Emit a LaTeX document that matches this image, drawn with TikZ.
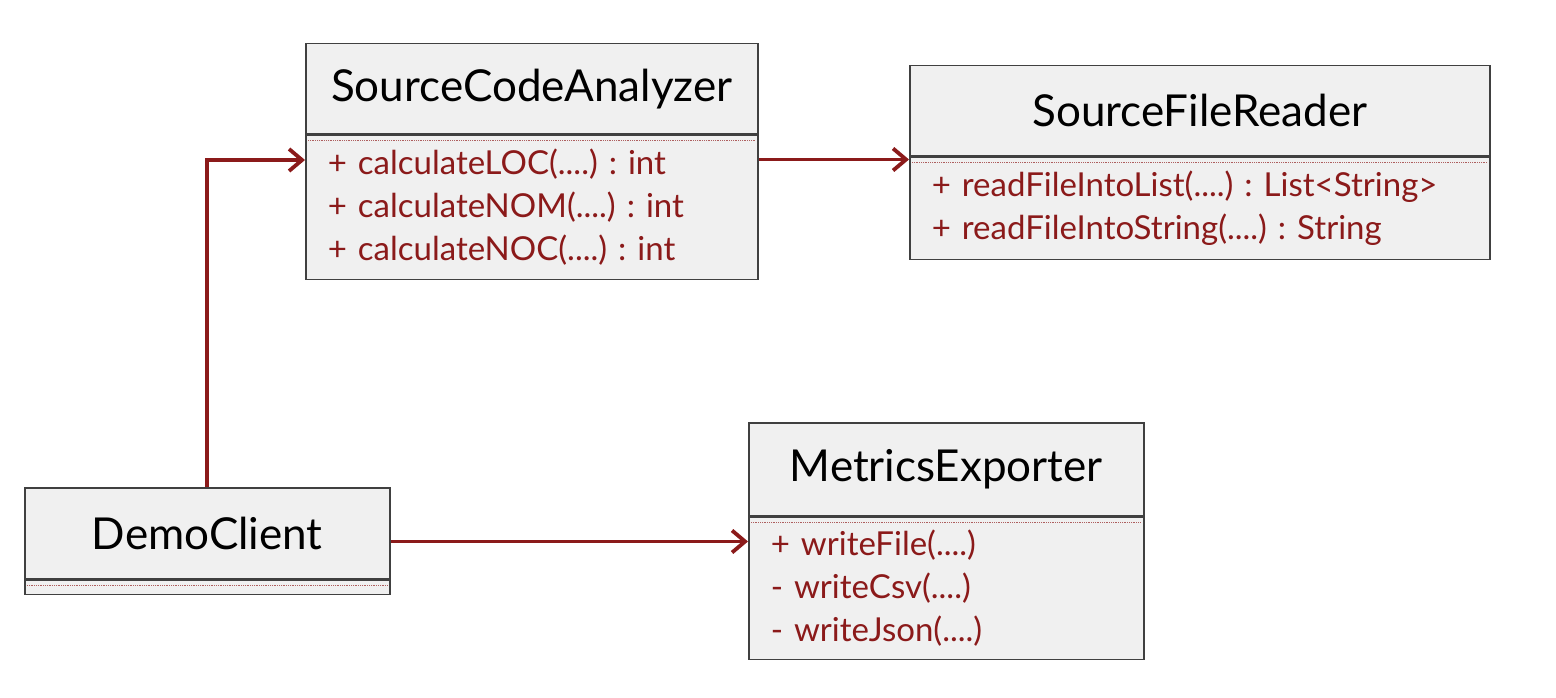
\documentclass[tikz,border=0pt]{standalone}
\usepackage{fontspec}
\setmainfont{Lato}
\usetikzlibrary{arrows.meta}
\definecolor{umlred}{HTML}{8B1A1A}
\definecolor{umlfill}{HTML}{F0F0F0}
\frenchspacing
\begin{document}
\begin{tikzpicture}[x=1pt, y=-1pt, >={Straight Barb[length=13pt,width=22pt]},
    head/.style={draw=black!75, fill=umlfill, line width=1.5pt, anchor=north west,
        inner sep=0pt, font=\fontsize{44}{48}\selectfont},
    body/.style={draw=black!75, fill=umlfill, line width=1.5pt, anchor=north west,
        inner xsep=22pt, inner ysep=0pt, align=left, text=umlred, font=\fontsize{33}{43}\selectfont},
    sep/.style={draw=umlred!70, densely dotted, line width=0.8pt},
    link/.style={->, draw=umlred, line width=3.8pt}]
    \useasboundingbox (0,0) rectangle (1556,698);

    % classes
    \node[head, minimum width=452pt, minimum height=90pt] (scaHead) at (305,43) {SourceCodeAnalyzer};
    \node[body, minimum width=452pt, minimum height=144pt, text width=408pt] (scaBody) at (scaHead.south west)
        {+ calculateLOC(....) : int\\+ calculateNOM(....) : int\\+ calculateNOC(....) : int};

    \node[head, minimum width=580pt, minimum height=90pt] (sfrHead) at (909,65) {SourceFileReader};
    \node[body, minimum width=580pt, minimum height=102pt, text width=536pt] (sfrBody) at (sfrHead.south west)
        {+ readFileIntoList(....) : List<String>\\+ readFileIntoString(....) : String};

    \node[head, minimum width=395pt, minimum height=93pt] (meHead) at (748,422) {MetricsExporter};
    \node[body, minimum width=395pt, minimum height=142pt, text width=351pt] (meBody) at (meHead.south west)
        {+ writeFile(....)\\- writeCsv(....)\\- writeJson(....)};

    \node[head, minimum width=365pt, minimum height=91pt] (dcHead) at (24,487) {DemoClient};
    \node[body, minimum width=365pt, minimum height=14pt, inner xsep=0pt] (dcBody) at (dcHead.south west) {};

    % dotted separators
    \foreach \b in {scaBody, sfrBody, meBody, dcBody}
        \draw[sep] ([xshift=3pt, yshift=-6pt]\b.north west) -- ([xshift=-3pt, yshift=-6pt]\b.north east);

    % connectors
    \coordinate (bend) at (207,160);
    \coordinate (sfrIn) at ([yshift=-3pt]sfrBody.north west);
    \coordinate (meIn) at ([yshift=-25pt]meBody.north west);
    \draw[link] (dcHead.north -| bend) |- (scaBody.west |- bend);
    \draw[link] (scaBody.east |- sfrIn) -- (sfrIn);
    \draw[link] (dcHead.east |- meIn) -- (meIn);
\end{tikzpicture}
\end{document}
